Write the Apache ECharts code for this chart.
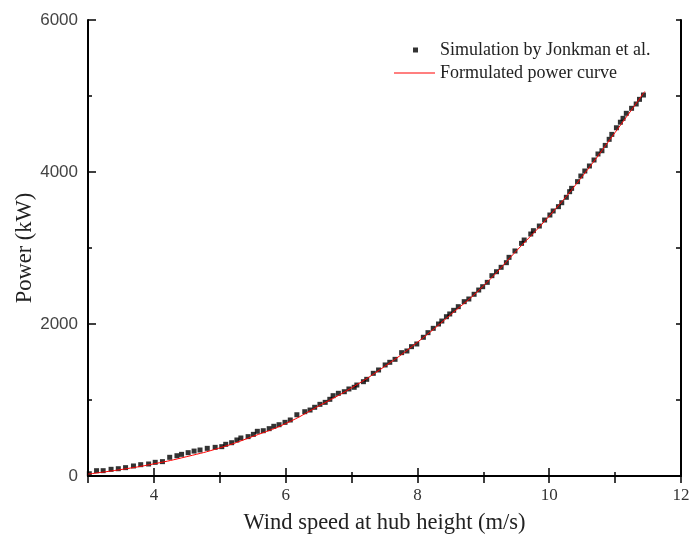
<!DOCTYPE html>
<html>
<head>
<meta charset="utf-8">
<script src="https://cdn.jsdelivr.net/npm/echarts@6/dist/echarts.min.js"></script>
<style>
html,body{margin:0;padding:0;background:#fff;}
#chart{width:691px;height:538px;}
</style>
</head>
<body>
<div id="chart"></div>
<script>
// Simulation by Jonkman et al. (wind speed m/s, power kW)
const simSpeed = [3.02,3.13,3.23,3.35,3.46,3.57,3.69,3.80,3.92,4.02,4.13,4.24,4.35,4.42,4.52,4.61,4.70,4.81,4.93,5.03,5.09,5.18,5.26,5.32,5.43,5.51,5.57,5.66,5.75,5.82,5.90,5.99,6.07,6.17,6.29,6.37,6.44,6.52,6.60,6.67,6.72,6.80,6.89,6.96,7.04,7.08,7.18,7.23,7.33,7.41,7.51,7.58,7.66,7.76,7.84,7.91,7.99,8.09,8.16,8.24,8.32,8.37,8.44,8.49,8.55,8.62,8.71,8.78,8.86,8.93,8.99,9.06,9.13,9.20,9.27,9.35,9.39,9.48,9.58,9.62,9.72,9.76,9.85,9.93,10.01,10.06,10.14,10.19,10.26,10.31,10.34,10.43,10.48,10.54,10.61,10.68,10.74,10.80,10.85,10.91,10.95,11.02,11.08,11.12,11.17,11.25,11.32,11.37,11.43];
const simPower = [30,70,70,88,96,110,132,149,158,180,189,246,267,285,307,328,342,364,377,386,417,438,474,500,518,548,588,596,623,654,675,706,737,806,846,868,904,943,969,1009,1057,1088,1109,1145,1167,1197,1241,1272,1351,1395,1461,1496,1535,1623,1645,1702,1737,1825,1886,1943,2000,2039,2096,2132,2180,2228,2294,2329,2391,2447,2491,2548,2636,2688,2746,2807,2877,2961,3061,3105,3184,3228,3289,3368,3434,3487,3544,3596,3667,3741,3785,3873,3947,4013,4079,4158,4237,4280,4350,4430,4495,4582,4655,4706,4772,4838,4895,4956,5013];

// Formulated power curve
const fitSpeed = [3.0,3.5,4.0,4.5,5.0,5.5,6.0,6.5,7.0,7.5,8.0,8.5,9.0,9.5,10.0,10.5,11.0,11.45];
const fitPower = [25,85,160,255,370,520,690,920,1160,1440,1760,2120,2500,2960,3420,3940,4520,5060];

const xTicks = [4,6,8,10,12];
const yTicks = [0,2000,4000,6000];

const serif = '"Liberation Serif","DejaVu Serif",serif';
const sans = '"Liberation Sans","DejaVu Sans",sans-serif';

const chart = echarts.init(document.getElementById('chart'));
const axLine = {color:'#000', width:2};
const tkLine = {color:'#000', width:1.5};
const hidden = {axisLine:{show:false},axisLabel:{show:false},splitLine:{show:false}};
chart.setOption({
  animation:false,
  backgroundColor:'#fff',
  grid:{left:88,right:10,top:20,bottom:62,outerBoundsMode:'none',containLabel:false},
  legend:[
    {data:[{name:'Simulation by Jonkman et al.',icon:'rect'}],left:413,top:41,padding:0,itemWidth:5,itemHeight:5,
     textStyle:{fontFamily:serif,fontSize:18,color:'#222',padding:[0,0,0,17]}},
    {data:[{name:'Formulated power curve',icon:'rect'}],left:394,top:64,padding:0,itemWidth:41,itemHeight:1,
     textStyle:{fontFamily:serif,fontSize:18,color:'#222'}}
  ],
  xAxis:[
    {type:'value',min:3,max:12,interval:1,position:'bottom',
     name:'Wind speed at hub height (m/s)',nameLocation:'middle',nameGap:36,nameMoveOverlap:false,
     nameTextStyle:{fontFamily:serif,fontSize:22.5,color:'#222'},
     axisLine:{show:true,lineStyle:axLine},
     axisTick:{show:true,inside:true,length:8,lineStyle:tkLine,customValues:xTicks},
     axisLabel:{fontFamily:serif,fontSize:17,color:'#333',margin:11,customValues:xTicks,formatter:v=>String(v)},
     splitLine:{show:false}},
    Object.assign({type:'value',min:3,max:12,interval:1,position:'bottom',
     axisTick:{show:true,inside:true,length:4,lineStyle:tkLine}},hidden),
    {type:'value',min:3,max:12,interval:1,position:'top',
     axisLine:{show:true,lineStyle:axLine},
     axisTick:{show:true,inside:true,length:7,lineStyle:tkLine},
     axisLabel:{show:false},splitLine:{show:false}}
  ],
  yAxis:[
    {type:'value',min:0,max:6000,interval:1000,position:'left',
     name:'Power (kW)',nameLocation:'middle',nameGap:51,nameMoveOverlap:false,
     nameTextStyle:{fontFamily:serif,fontSize:22.5,color:'#222'},
     axisLine:{show:true,lineStyle:axLine},
     axisTick:{show:true,inside:true,length:8,lineStyle:tkLine,customValues:yTicks},
     axisLabel:{fontFamily:sans,fontSize:17,color:'#444',margin:10,customValues:yTicks,formatter:v=>String(v)},
     splitLine:{show:false}},
    Object.assign({type:'value',min:0,max:6000,interval:1000,position:'left',
     axisTick:{show:true,inside:true,length:4,lineStyle:tkLine}},hidden),
    {type:'value',min:0,max:6000,interval:1000,position:'right',
     axisLine:{show:true,lineStyle:axLine},
     axisTick:{show:true,inside:true,length:5,lineStyle:tkLine},
     axisLabel:{show:false},splitLine:{show:false}}
  ],
  series:[
    {name:'Simulation by Jonkman et al.',type:'scatter',symbol:'rect',symbolSize:5,
     itemStyle:{color:'#000'},
     data:simSpeed.map((v,i)=>[v,simPower[i]]),z:2},
    {name:'Formulated power curve',type:'line',smooth:true,symbol:'none',
     lineStyle:{color:'#ff0000',width:1},itemStyle:{color:'#ff0000'},
     data:fitSpeed.map((v,i)=>[v,fitPower[i]]),z:3}
  ]
});
</script>
</body>
</html>
